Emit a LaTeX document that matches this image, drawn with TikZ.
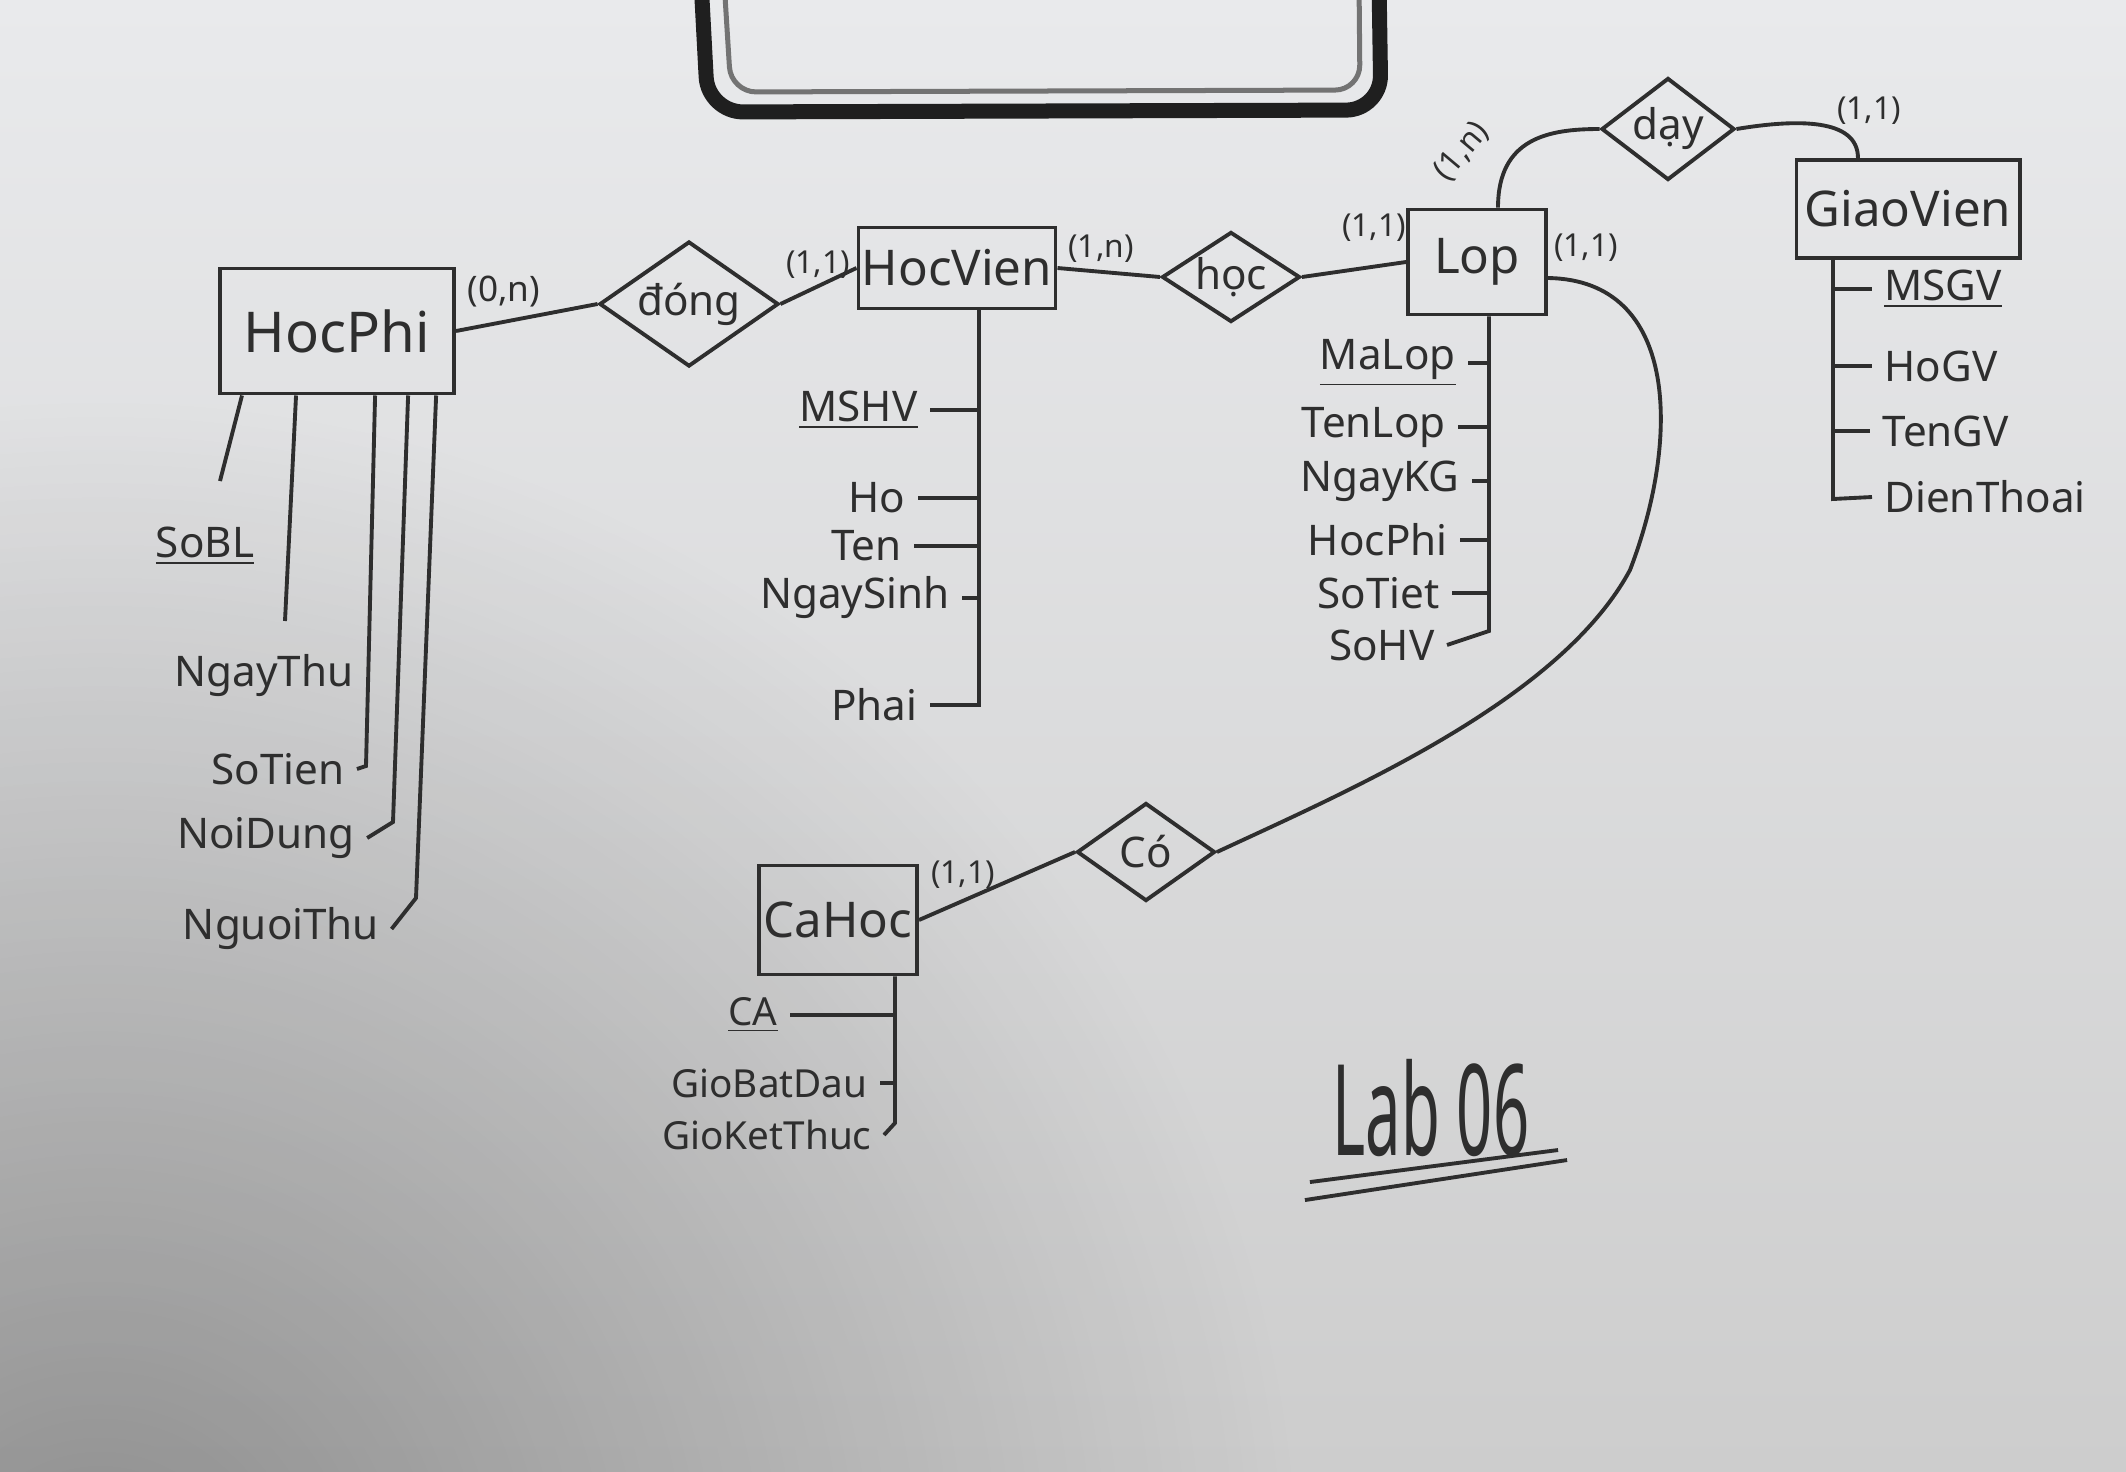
\documentclass[tikz,border=0pt]{standalone}
\usepackage{fontspec}
\setmainfont{Noto Sans}
\usetikzlibrary{shapes.geometric,positioning,fadings}

\definecolor{ink}{HTML}{2E2E2E}
\definecolor{papertop}{HTML}{E9EAEC}
\definecolor{paperbot}{HTML}{CDCDCD}
\tikzfading[name=softspot, inner color=transparent!0, outer color=transparent!100]

\begin{document}
\begin{tikzpicture}[x=0.01cm, y=-0.01cm, line width=1.1pt, color=ink,
  entity/.style={draw, shape=rectangle, inner sep=0pt, font=\fontsize{14}{16}\selectfont},
  relation/.style={draw, shape=diamond, aspect=1.4, inner sep=0pt, font=\fontsize{12}{14}\selectfont},
  attr/.style={inner sep=3pt, font=\fontsize{12}{14}\selectfont},
  card/.style={inner sep=0pt, font=\fontsize{9}{11}\selectfont}]

\useasboundingbox (0,0) rectangle (2126,1472);
\shade[top color=papertop, bottom color=paperbot] (0,0) rectangle (2126,1472);
\fill[black, opacity=0.3, path fading=softspot] (100,1600) circle (1200);

% clip
\draw[black!88, line width=0.15cm, rounded corners=0.35cm] (701,-20) -- (708,112) -- (1381,110) -- (1379,-20);
\draw[black!55, line width=0.05cm, rounded corners=0.25cm] (724,-20) -- (731,92) -- (1360,90) -- (1359,-20);

\node[entity, minimum width=2.34cm, minimum height=1.25cm, font=\fontsize{16}{18}\selectfont] (hocphi) at (337,331) {HocPhi};
\node[relation, minimum width=1.79cm, minimum height=1.25cm] (dong) at (689,304) {đóng};
\node[entity, minimum width=1.97cm, minimum height=0.81cm] (hocvien) at (957,268) {HocVien};
\node[relation, aspect=1.5, minimum width=1.38cm, minimum height=0.9cm] (hoc) at (1231,277) {học};
\node[entity, minimum width=1.38cm, minimum height=1.05cm] (lop) at (1477,262) {Lop};
\node[relation, aspect=1.3, minimum width=1.33cm, minimum height=1.02cm] (day) at (1668,129) {dạy};
\node[entity, minimum width=2.23cm, minimum height=0.98cm] (giaovien) at (1908,209) {GiaoVien};
\node[entity, minimum width=1.58cm, minimum height=1.09cm] (cahoc) at (838,920) {CaHoc};
\node[relation, minimum width=1.38cm, minimum height=0.98cm] (co) at (1146,852) {Có};

\draw (hocphi.east) -- (dong.west);
\draw (dong.east) -- (hocvien.west);
\draw (hocvien.east) -- (hoc.west);
\draw (hoc.east) -- (lop.west);
\draw ([xshift=0.21cm]lop.north) .. controls +(0,-70) and +(-50,0) .. (day.west);
\draw (day.east) .. controls +(60,-10) and +(0,-40) .. ([xshift=-0.5cm]giaovien.north);
\draw ([yshift=-0.16cm]lop.east) .. controls (1680,280) and (1680,440) .. (1630,570) .. controls (1560,700) and (1350,790) .. (co.east);
\draw (cahoc.east) -- (co.west);

\node[card, font=\fontsize{10}{12}\selectfont] (k1) at (504,292) {(0,n)};
\node[card] (k2) at (818,265) {(1,1)};
\node[card] (k3) at (1101,249) {(1,n)};
\node[card] (k4) at (1374,228) {(1,1)};
\node[card] (k5) at (1586,248) {(1,1)};
\node[card, rotate=50] (k6) at (1462,152) {(1,n)};
\node[card] (k7) at (1869,111) {(1,1)};
\node[card] (k8) at (963,875) {(1,1)};

% HocPhi
\node[attr] (sobl) at (205,546) {\underline{SoBL}};
\node[attr] (ngaythu) at (264,676) {NgayThu};
\node[attr] (sotien) at (278,769) {SoTien};
\node[attr] (noidung) at (266,838) {NoiDung};
\node[attr] (nguoithu) at (281,929) {NguoiThu};
\coordinate (hpa) at (220,481);
\coordinate (hpb) at (285,621);
\coordinate (hpc) at (366,766);
\coordinate (hpd) at (393,822);
\coordinate (hpe) at (416,898);
\draw ([xshift=0.24cm]hocphi.south west) -- (hpa);
\draw ([xshift=0.78cm]hocphi.south west) -- (hpb);
\draw ([xshift=1.57cm]hocphi.south west) -- (hpc) -- (sotien.east);
\draw ([xshift=1.90cm]hocphi.south west) -- (hpd) -- (noidung.east);
\draw ([xshift=2.18cm]hocphi.south west) -- (hpe) -- (nguoithu.east);

% HocVien
\node[attr, anchor=east] (mshv) at (930,410) {\underline{MSHV}};
\node[attr, anchor=east] (ho) at (918,498) {Ho};
\node[attr, anchor=east] (ten) at (914,546) {Ten};
\node[attr, anchor=east] (ngaysinh) at (962,598) {NgaySinh};
\node[attr, anchor=east] (phai) at (930,705) {Phai};
\coordinate (hvend) at (979,705);
\draw (hocvien.south -| hvend) -- (hvend) -- (phai.east);
\draw (mshv.east) -- (mshv.east -| hvend);
\draw (ho.east) -- (ho.east -| hvend);
\draw (ten.east) -- (ten.east -| hvend);
\draw (ngaysinh.east) -- (ngaysinh.east -| hvend);

% Lop
\node[attr, anchor=east] (malop) at (1468,363) {\underline{MaLop}};
\node[attr, anchor=east] (tenlop) at (1458,427) {TenLop};
\node[attr, anchor=east] (ngaykg) at (1472,481) {NgayKG};
\node[attr, anchor=east] (hocphilop) at (1460,540) {HocPhi};
\node[attr, anchor=east] (sotiet) at (1452,593) {SoTiet};
\node[attr, anchor=east] (sohv) at (1447,645) {SoHV};
\coordinate (lopend) at (1489,631);
\draw (lop.south -| lopend) -- (lopend) -- (sohv.east);
\draw (malop.east) -- (malop.east -| lopend);
\draw (tenlop.east) -- (tenlop.east -| lopend);
\draw (ngaykg.east) -- (ngaykg.east -| lopend);
\draw (hocphilop.east) -- (hocphilop.east -| lopend);
\draw (sotiet.east) -- (sotiet.east -| lopend);

% GiaoVien
\node[attr, anchor=west] (msgv) at (1872,289) {\underline{MSGV}};
\node[attr, anchor=west] (hogv) at (1872,366) {HoGV};
\node[attr, anchor=west] (tengv) at (1870,431) {TenGV};
\node[attr, anchor=west] (dienthoai) at (1872,497) {DienThoai};
\coordinate (gvend) at (1833,499);
\draw (giaovien.south -| gvend) -- (gvend) -- (dienthoai.west);
\draw (msgv.west -| gvend) -- (msgv.west);
\draw (hogv.west -| gvend) -- (hogv.west);
\draw (tengv.west -| gvend) -- (tengv.west);

% CaHoc
\node[attr, anchor=east, font=\fontsize{11}{13}\selectfont] (ca) at (790,1015) {\underline{CA}};
\node[attr, anchor=east, font=\fontsize{11}{13}\selectfont] (giobatdau) at (880,1083) {GioBatDau};
\node[attr, anchor=east, font=\fontsize{11}{13}\selectfont] (gioketthuc) at (884,1135) {GioKetThuc};
\coordinate (caend) at (895,1123);
\draw (cahoc.south -| caend) -- (caend) -- (gioketthuc.east);
\draw (ca.east) -- (ca.east -| caend);
\draw (giobatdau.east) -- (giobatdau.east -| caend);

\node (lab) at (1431,1108) {\scalebox{1}[2]{\fontsize{18}{22}\selectfont Lab 06}};
\draw ([shift={(-1.21cm,-0.74cm)}]lab.center) -- ([shift={(1.27cm,-0.42cm)}]lab.center);
\draw ([shift={(-1.26cm,-0.92cm)}]lab.center) -- ([shift={(1.36cm,-0.52cm)}]lab.center);
\end{tikzpicture}
\end{document}
